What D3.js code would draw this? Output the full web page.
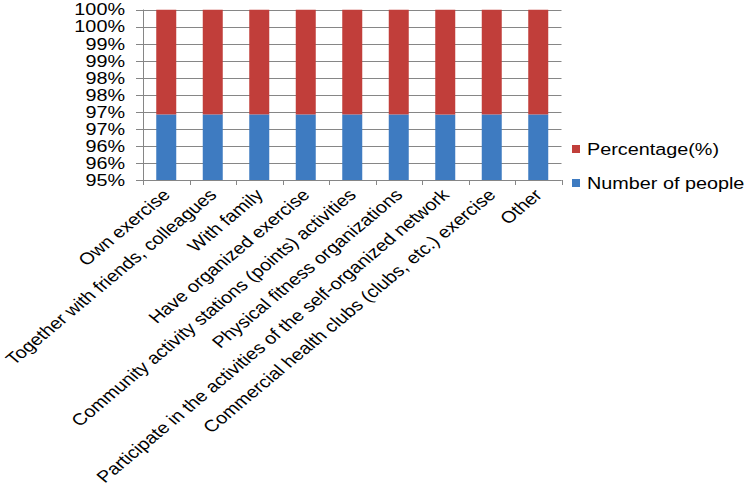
<!DOCTYPE html>
<html>
<head>
<meta charset="utf-8">
<script src="https://cdn.jsdelivr.net/npm/d3@7"></script>
<style>
  html, body { margin: 0; padding: 0; background: #fff; }
  svg text { font-family: "Liberation Sans", Arial, sans-serif; fill: #000; }
</style>
</head>
<body>
<svg id="chart" width="750" height="492"></svg>
<script>
const categories = [
  "Own exercise",
  "Together with friends, colleagues",
  "With family",
  "Have organized exercise",
  "Community activity stations (points) activities",
  "Physical fitness organizations",
  "Participate in the activities of the self-organized network",
  "Commercial health clubs (clubs, etc.) exercise",
  "Other"
];
const numberOfPeople = [1260, 630, 472, 252, 189, 126, 95, 63, 63];
const percentage = [40.0, 20.0, 14.98, 8.0, 6.0, 4.0, 3.02, 2.0, 2.0];
const seriesNames = ["Number of people", "Percentage(%)"];
const seriesColors = ["#3E7BC1", "#C13E3A"];
const yTickValues = [0.95, 0.955, 0.96, 0.965, 0.97, 0.975, 0.98, 0.985, 0.99, 0.995, 1.0];
const yTickLabels = ["95%", "96%", "96%", "97%", "97%", "98%", "98%", "99%", "99%", "100%", "100%"];

const svg = d3.select("#chart");
const plot = { left: 143, right: 561.5, top: 9.5, bottom: 180 };
const SX = 1.2; // horizontal text stretch seen in reference
const fontSize = 16.5;

const x = d3.scaleBand().domain(categories).range([plot.left, plot.right]).paddingInner(0.57).paddingOuter(0.285);
const y = d3.scaleLinear().domain([0.95, 1.0]).range([plot.bottom, plot.top]);

// stacked normalized data
const rows = categories.map((c, i) => ({ cat: c, a: numberOfPeople[i], b: percentage[i] }));
const stack = d3.stack().keys(["a", "b"]).offset(d3.stackOffsetExpand);
const series = stack(rows);

svg.append("defs").append("clipPath").attr("id", "clip")
  .append("rect").attr("x", plot.left).attr("y", plot.top)
  .attr("width", plot.right - plot.left).attr("height", plot.bottom - plot.top);

// gridlines
svg.append("g").selectAll("line").data(yTickValues).join("line")
  .attr("x1", plot.left - 7).attr("x2", plot.right)
  .attr("y1", d => Math.round(y(d)) + 0.5).attr("y2", d => Math.round(y(d)) + 0.5)
  .attr("stroke", "#868686").attr("stroke-width", 1);

// bars
svg.append("g").attr("clip-path", "url(#clip)")
  .selectAll("g").data(series).join("g")
  .attr("fill", (d, i) => seriesColors[i])
  .selectAll("rect").data(d => d).join("rect")
  .attr("x", d => x(d.data.cat))
  .attr("width", x.bandwidth())
  .attr("y", d => y(d[1]))
  .attr("height", d => Math.max(0, y(d[0]) - y(d[1])));

// y axis line
svg.append("line")
  .attr("x1", plot.left + 0.5).attr("x2", plot.left + 0.5)
  .attr("y1", plot.top).attr("y2", plot.bottom)
  .attr("stroke", "#868686");

// x axis line and ticks
const step = x.step();
const bounds = d3.range(categories.length + 1).map(i => plot.left + i * step);
svg.append("line")
  .attr("x1", plot.left).attr("x2", plot.right)
  .attr("y1", Math.round(plot.bottom) + 0.5).attr("y2", Math.round(plot.bottom) + 0.5)
  .attr("stroke", "#868686");
svg.append("g").selectAll("line").data(bounds).join("line")
  .attr("x1", d => Math.round(d) + 0.5).attr("x2", d => Math.round(d) + 0.5)
  .attr("y1", plot.bottom).attr("y2", plot.bottom + 5)
  .attr("stroke", "#868686");

// y tick labels
svg.append("g").selectAll("text").data(yTickValues).join("text")
  .attr("transform", (d, i) => `translate(125,${y(d)}) scale(${SX},1)`)
  .attr("text-anchor", "end").attr("dy", "0.36em")
  .style("font-size", fontSize + "px")
  .text((d, i) => yTickLabels[i]);

// x labels
svg.append("g").selectAll("text").data(categories).join("text")
  .attr("transform", d => `translate(${x(d) + x.bandwidth() / 2 + 5},196) scale(${SX},1) rotate(-45)`)
  .attr("text-anchor", "end")
  .style("font-size", fontSize + "px")
  .text(d => d);

// legend (Percentage on top)
const legendItems = [
  { name: seriesNames[1], color: seriesColors[1], cy: 149 },
  { name: seriesNames[0], color: seriesColors[0], cy: 183 }
];
const lg = svg.append("g").selectAll("g").data(legendItems).join("g");
lg.append("rect").attr("x", 572).attr("y", d => d.cy - 4).attr("width", 8).attr("height", 8).attr("fill", d => d.color);
lg.append("text")
  .attr("transform", d => `translate(587,${d.cy}) scale(${SX},1)`)
  .attr("dy", "0.36em")
  .style("font-size", fontSize + "px")
  .text(d => d.name);
</script>
</body>
</html>
